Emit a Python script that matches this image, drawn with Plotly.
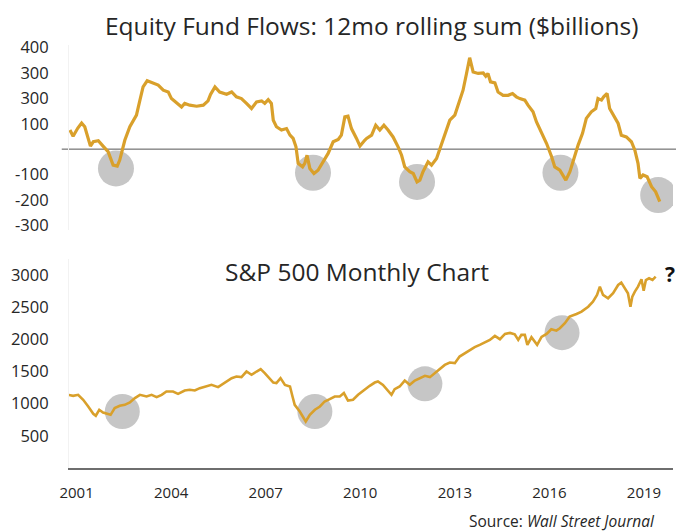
import plotly.graph_objects as go

# ---------------- data ----------------
flow_year = [2000.79, 2000.89, 2001.04, 2001.16, 2001.26, 2001.37, 2001.44, 2001.53, 2001.69, 2001.84,
             2002.00, 2002.16, 2002.29, 2002.37, 2002.53, 2002.69, 2002.90, 2003.01, 2003.11, 2003.24,
             2003.43, 2003.59, 2003.75, 2003.91, 2004.01, 2004.17, 2004.33, 2004.43, 2004.59, 2004.81,
             2005.02, 2005.17, 2005.25, 2005.39, 2005.54, 2005.76, 2005.92, 2006.07, 2006.23, 2006.39,
             2006.55, 2006.71, 2006.87, 2006.97, 2007.08, 2007.18, 2007.24, 2007.34, 2007.50, 2007.66,
             2007.77, 2007.87, 2007.96, 2008.03, 2008.17, 2008.24, 2008.31, 2008.40, 2008.53, 2008.66,
             2008.82, 2008.98, 2009.14, 2009.30, 2009.40, 2009.51, 2009.61, 2009.72, 2009.88, 2009.99,
             2010.14, 2010.20, 2010.36, 2010.49, 2010.62, 2010.75, 2010.88, 2011.04, 2011.20, 2011.31,
             2011.41, 2011.57, 2011.68, 2011.80, 2011.89, 2011.99, 2012.15, 2012.26, 2012.42, 2012.58,
             2012.71, 2012.84, 2013.00, 2013.13, 2013.26, 2013.37, 2013.47, 2013.58, 2013.74, 2013.90,
             2013.98, 2014.05, 2014.13, 2014.27, 2014.37, 2014.53, 2014.69, 2014.83, 2014.95, 2015.06,
             2015.22, 2015.32, 2015.48, 2015.59, 2015.75, 2015.91, 2016.07, 2016.17, 2016.33, 2016.52,
             2016.65, 2016.77, 2016.91, 2017.05, 2017.17, 2017.33, 2017.47, 2017.54, 2017.65, 2017.72,
             2017.83, 2017.91, 2018.07, 2018.18, 2018.28, 2018.44, 2018.60, 2018.71, 2018.81, 2018.87,
             2018.97, 2019.10, 2019.24, 2019.37, 2019.50]
flow_value = [75, 51, 83, 103, 88, 35, 12, 29, 33, 12,
              -10, -63, -67, -43, 35, 88, 134, 193, 245, 269,
              261, 252, 232, 225, 199, 182, 166, 180, 173, 169,
              173, 190, 215, 245, 225, 216, 225, 206, 199, 180,
              160, 186, 190, 180, 195, 180, 114, 88, 75, 81,
              55, 42, 9, -56, -70, -56, -24, -76, -96, -83,
              -50, -17, 29, 38, 55, 127, 130, 81, 42, 12,
              35, 42, 55, 94, 75, 94, 75, 48, 9, -24,
              -70, -89, -96, -129, -122, -89, -50, -63, -37, 22,
              62, 114, 134, 180, 232, 298, 360, 304, 298, 300,
              287, 298, 265, 261, 225, 212, 212, 219, 206, 199,
              193, 173, 147, 107, 68, 22, -30, -70, -83, -122,
              -89, -37, 16, 62, 121, 147, 160, 199, 193, 206,
              219, 160, 127, 101, 55, 48, 29, -4, -56, -115,
              -102, -109, -148, -168, -207]

sp_year = [2000.73, 2000.89, 2001.05, 2001.21, 2001.37, 2001.53, 2001.61, 2001.72, 2001.84, 2001.95,
           2002.08, 2002.21, 2002.37, 2002.53, 2002.69, 2002.85, 2003.01, 2003.22, 2003.38, 2003.54,
           2003.70, 2003.85, 2004.06, 2004.22, 2004.43, 2004.59, 2004.75, 2004.91, 2005.12, 2005.28,
           2005.49, 2005.70, 2005.92, 2006.07, 2006.23, 2006.39, 2006.55, 2006.71, 2006.84, 2006.97,
           2007.13, 2007.24, 2007.34, 2007.47, 2007.61, 2007.77, 2007.85, 2007.92, 2008.08, 2008.19,
           2008.27, 2008.40, 2008.56, 2008.72, 2008.87, 2009.03, 2009.19, 2009.35, 2009.48, 2009.61,
           2009.77, 2009.93, 2010.09, 2010.30, 2010.46, 2010.56, 2010.72, 2010.88, 2010.99, 2011.09,
           2011.25, 2011.41, 2011.57, 2011.73, 2011.89, 2012.05, 2012.21, 2012.36, 2012.52, 2012.68,
           2012.84, 2013.00, 2013.15, 2013.31, 2013.47, 2013.63, 2013.79, 2013.95, 2014.11, 2014.27,
           2014.43, 2014.59, 2014.75, 2014.90, 2015.01, 2015.11, 2015.22, 2015.30, 2015.43, 2015.61,
           2015.75, 2015.91, 2016.06, 2016.22, 2016.33, 2016.49, 2016.64, 2016.86, 2017.02, 2017.23,
           2017.38, 2017.51, 2017.60, 2017.70, 2017.86, 2018.02, 2018.18, 2018.28, 2018.39, 2018.49,
           2018.57, 2018.63, 2018.71, 2018.81, 2018.92, 2018.99, 2019.06, 2019.16, 2019.27, 2019.37]
sp_value = [1136, 1121, 1136, 1059, 955, 842, 811, 904, 862, 842,
            826, 930, 966, 981, 1017, 1085, 1136, 1110, 1136, 1101,
            1136, 1188, 1188, 1152, 1203, 1214, 1203, 1240, 1276, 1291,
            1256, 1318, 1395, 1420, 1411, 1498, 1447, 1498, 1535, 1473,
            1395, 1327, 1318, 1395, 1291, 1265, 1110, 981, 878, 800,
            723, 826, 904, 955, 1033, 1070, 1110, 1110, 1163, 1048,
            1059, 1136, 1203, 1276, 1327, 1343, 1291, 1188, 1136, 1225,
            1265, 1358, 1291, 1358, 1395, 1431, 1411, 1473, 1550, 1601,
            1637, 1628, 1730, 1783, 1834, 1876, 1912, 1947, 1989, 2051,
            2000, 2082, 2098, 2075, 1989, 2067, 2067, 1912, 2030, 1912,
            2035, 2082, 2155, 2133, 2171, 2248, 2350, 2392, 2428, 2505,
            2583, 2687, 2816, 2687, 2636, 2713, 2842, 2878, 2791, 2713,
            2505, 2661, 2738, 2816, 2930, 2754, 2919, 2946, 2919, 2971]

flow_circle_year = [2002.25, 2008.50, 2011.80, 2016.35, 2019.45]
flow_circle_value = [-76, -93, -129, -93, -181]
sp_circle_year = [2002.45, 2008.56, 2012.05, 2016.40]
sp_circle_value = [877, 877, 1307, 2102]

flow_tick_vals = [400, 300, 200, 100, -100, -200, -300]
flow_tick_text = ["400", "300", "300", "100", "-100", "-200", "-300"]
sp_tick_vals = [500, 1000, 1500, 2000, 2500, 3000]
year_ticks = [2001, 2004, 2007, 2010, 2013, 2016, 2019]

# ---------------- styling ----------------
GOLD = "#D9A02B"
CIRCLE = "#C6C6C6"
TEXT = "#262626"
FONT = "Open Sans"
XRANGE = [2000.76, 2019.92]

fig = go.Figure()
fig.add_trace(go.Scatter(x=flow_circle_year, y=flow_circle_value, mode="markers",
                         marker=dict(size=36, color=CIRCLE), xaxis="x", yaxis="y",
                         hoverinfo="skip", showlegend=False))
fig.add_trace(go.Scatter(x=flow_year, y=flow_value, mode="lines",
                         line=dict(color=GOLD, width=3.2), xaxis="x", yaxis="y",
                         showlegend=False))
fig.add_trace(go.Scatter(x=sp_circle_year, y=sp_circle_value, mode="markers",
                         marker=dict(size=35, color=CIRCLE), xaxis="x2", yaxis="y2",
                         hoverinfo="skip", showlegend=False))
fig.add_trace(go.Scatter(x=sp_year, y=sp_value, mode="lines",
                         line=dict(color=GOLD, width=2.6), xaxis="x2", yaxis="y2",
                         showlegend=False))

fig.update_layout(
    width=676, height=532,
    margin=dict(l=69, r=3, t=45, b=64, autoexpand=False),
    paper_bgcolor="white", plot_bgcolor="white",
    font=dict(family=FONT, color=TEXT),
    xaxis=dict(domain=[0, 1], anchor="y", range=XRANGE, visible=False),
    yaxis=dict(domain=[0.5617, 1], range=[-320, 410], tickvals=flow_tick_vals,
               ticktext=flow_tick_text, showgrid=False, zeroline=False,
               showline=True, linecolor="#f2f2f2", ticks="",
               tickfont=dict(size=16.5, color=TEXT), ticklabelstandoff=16),
    xaxis2=dict(domain=[0, 1], anchor="y2", range=XRANGE, tickvals=year_ticks,
                showgrid=False, zeroline=False, showline=True, linecolor="#6e6e6e",
                linewidth=1.5, ticks="", tickfont=dict(size=15, color=TEXT),
                ticklabelstandoff=10),
    yaxis2=dict(domain=[0, 0.4948], range=[0, 3250], tickvals=sp_tick_vals,
                showgrid=False, zeroline=False, showline=True, linecolor="#f2f2f2",
                ticks="", tickfont=dict(size=16.5, color=TEXT), ticklabelstandoff=16),
    shapes=[dict(type="line", xref="paper", yref="y", x0=-0.012, x1=1.005, y0=0, y1=0,
                 line=dict(color="#555555", width=1), layer="below")],
    annotations=[
        dict(text="Equity Fund Flows: 12mo rolling sum ($billions)", xref="paper", yref="paper",
             x=0.5, y=1.047, xanchor="center", yanchor="middle", showarrow=False,
             font=dict(size=24.5, color=TEXT)),
        dict(text="S&P 500 Monthly Chart", xref="paper", yref="paper",
             x=0.4768, y=0.464, xanchor="center", yanchor="middle", showarrow=False,
             font=dict(size=24.5, color=TEXT)),
        dict(text="<b>?</b>", xref="paper", yref="paper",
             x=0.995, y=0.458, xanchor="center", yanchor="middle", showarrow=False,
             font=dict(size=21, color="#111111")),
        dict(text="Source: <i>Wall Street Journal</i>", xref="paper", yref="paper",
             x=0.973, y=-0.126, xanchor="right", yanchor="middle", showarrow=False,
             font=dict(size=15.5, color=TEXT)),
    ],
)

fig.write_html("out.html", config={"displayModeBar": False},
               post_script="document.body.style.margin='0px';")
